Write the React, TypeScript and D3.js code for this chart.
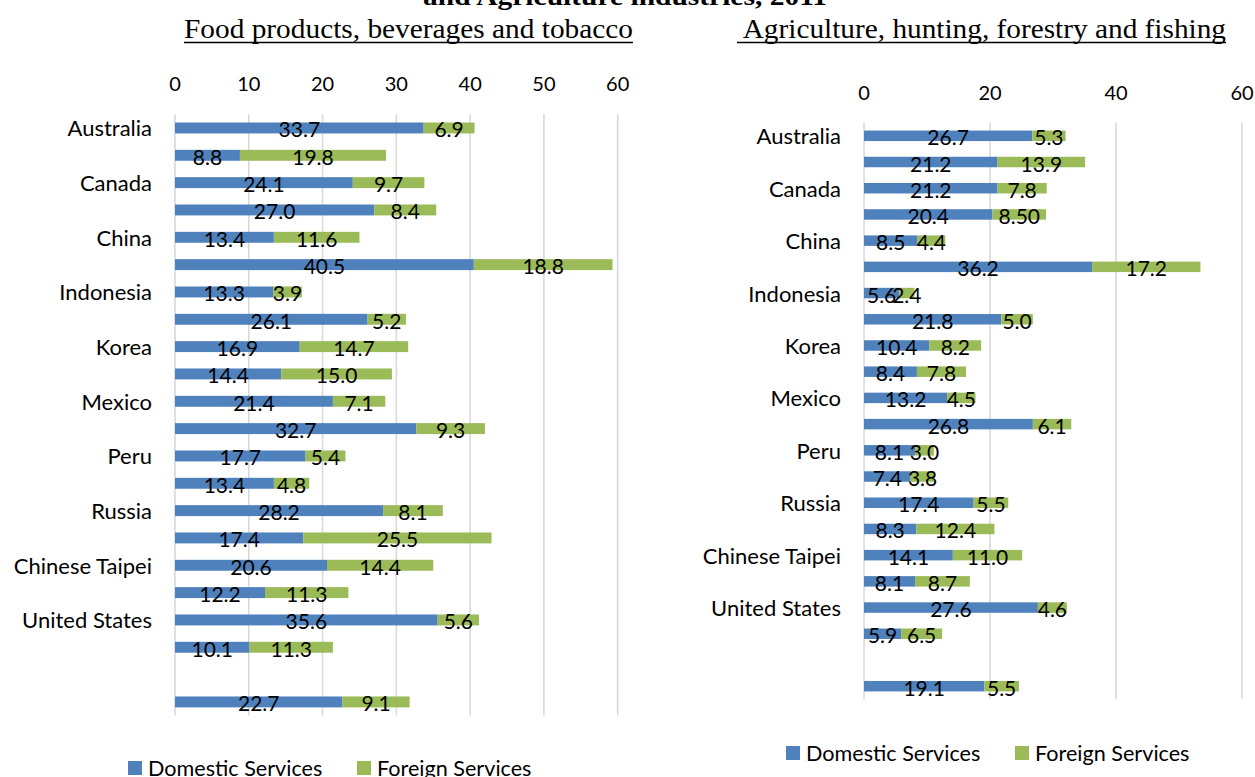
import React from "react";
import * as d3 from "d3";

// Row labels (every other economy is labelled on the axis)
const economyLabels = [
  "Australia", "", "Canada", "", "China", "", "Indonesia", "", "Korea", "",
  "Mexico", "", "Peru", "", "Russia", "", "Chinese Taipei", "", "United States", "",
  "", "",
];

// Food products, beverages and tobacco
const foodDomestic = [
  "33.7", "8.8", "24.1", "27.0", "13.4", "40.5", "13.3", "26.1", "16.9", "14.4",
  "21.4", "32.7", "17.7", "13.4", "28.2", "17.4", "20.6", "12.2", "35.6", "10.1",
  "", "22.7",
];
const foodForeign = [
  "6.9", "19.8", "9.7", "8.4", "11.6", "18.8", "3.9", "5.2", "14.7", "15.0",
  "7.1", "9.3", "5.4", "4.8", "8.1", "25.5", "14.4", "11.3", "5.6", "11.3",
  "", "9.1",
];

// Agriculture, hunting, forestry and fishing
const agriDomestic = [
  "26.7", "21.2", "21.2", "20.4", "8.5", "36.2", "5.6", "21.8", "10.4", "8.4",
  "13.2", "26.8", "8.1", "7.4", "17.4", "8.3", "14.1", "8.1", "27.6", "5.9",
  "", "19.1",
];
const agriForeign = [
  "5.3", "13.9", "7.8", "8.50", "4.4", "17.2", "2.4", "5.0", "8.2", "7.8",
  "4.5", "6.1", "3.0", "3.8", "5.5", "12.4", "11.0", "8.7", "4.6", "6.5",
  "", "5.5",
];

const foodTicks = [0, 10, 20, 30, 40, 50, 60];
const agriTicks = [0, 20, 40, 60];

const BLUE = "#4F81BD";
const GREEN = "#9BBB59";
const GRID = "#D9D9D9";
const SANS = "Lato, 'Open Sans', sans-serif";
const SERIF = "'Liberation Serif', 'Times New Roman', serif";

type PanelProps = {
  left: number;
  right: number;
  top: number;
  bottom: number;
  tickY: number;
  ticks: number[];
  domestic: string[];
  foreign: string[];
};

function Panel({ left, right, top, bottom, tickY, ticks, domestic, foreign }: PanelProps) {
  const x = d3.scaleLinear().domain([0, 60]).range([left, right]);
  const y = d3
    .scaleBand<number>()
    .domain(d3.range(economyLabels.length))
    .range([top, bottom])
    .paddingInner(0.6)
    .paddingOuter(0.3);
  const bw = y.bandwidth();

  return (
    <g>
      {ticks.map((t) => (
        <g key={t}>
          <line x1={x(t)} x2={x(t)} y1={top} y2={bottom} stroke={GRID} strokeWidth={1.6} />
          <text
            x={x(t)}
            y={tickY}
            textAnchor="middle"
            dominantBaseline="central"
            fontFamily={SANS}
            fontSize={20}
            fill="#000"
          >
            {t}
          </text>
        </g>
      ))}
      {economyLabels.map((name, i) =>
        name ? (
          <text
            key={"l" + i}
            x={left - 23}
            y={(y(i) as number) + bw / 2}
            textAnchor="end"
            dominantBaseline="central"
            fontFamily={SANS}
            fontSize={22}
            fill="#000"
          >
            {name}
          </text>
        ) : null
      )}
      {domestic.map((ds, i) => {
        if (ds === "") return null;
        const d = Number(ds);
        const f = Number(foreign[i]);
        const yy = y(i) as number;
        const cy = yy + bw / 2;
        return (
          <g key={"b" + i}>
            <rect x={x(0)} y={yy} width={x(d) - x(0)} height={bw} fill={BLUE} />
            <rect x={x(d)} y={yy} width={x(d + f) - x(d)} height={bw} fill={GREEN} />
            <text
              x={x(d / 2)}
              y={cy + 1}
              textAnchor="middle"
              dominantBaseline="central"
              fontFamily={SANS}
              fontSize={21}
              fill="#000"
            >
              {ds}
            </text>
            <text
              x={x(d + f / 2)}
              y={cy + 1}
              textAnchor="middle"
              dominantBaseline="central"
              fontFamily={SANS}
              fontSize={21}
              fill="#000"
            >
              {foreign[i]}
            </text>
          </g>
        );
      })}
    </g>
  );
}

function Legend({ x, y }: { x: number; y: number }) {
  const items = [
    { label: "Domestic Services", color: BLUE, dx: 0 },
    { label: "Foreign Services", color: GREEN, dx: 229 },
  ];
  return (
    <g>
      {items.map((it) => (
        <g key={it.label}>
          <rect x={x + it.dx} y={y - 7} width={14} height={14} fill={it.color} />
          <text
            x={x + it.dx + 20}
            y={y}
            dominantBaseline="central"
            fontFamily={SANS}
            fontSize={21.6}
            fill="#000"
          >
            {it.label}
          </text>
        </g>
      ))}
    </g>
  );
}

// Underlined panel heading
function Heading({ x, width, text }: { x: number; width: number; text: string }) {
  return (
    <g>
      <text
        x={x}
        y={38}
        fontFamily={SERIF}
        fontSize={27}
        textLength={width}
        lengthAdjust="spacingAndGlyphs"
        fill="#000"
        style={{ whiteSpace: "pre" }}
      >
        {text}
      </text>
      <line x1={x} x2={x + width} y1={42.5} y2={42.5} stroke="#000" strokeWidth={1.6} />
    </g>
  );
}

export default function App() {
  return (
    <svg
      width={1255}
      height={777}
      style={{ position: "absolute", left: 0, top: 0, background: "#fff" }}
    >
      <text
        x={423}
        y={5}
        fontFamily={SERIF}
        fontWeight="bold"
        fontSize={26}
        textLength={404}
        lengthAdjust="spacingAndGlyphs"
        fill="#000"
      >
        and Agriculture industries, 2011
      </text>
      <Heading x={184} width={449} text="Food products, beverages and tobacco" />
      <Heading x={737} width={489} text=" Agriculture, hunting, forestry and fishing" />

      <Panel
        left={175}
        right={617.7}
        top={114.3}
        bottom={715.6}
        tickY={83}
        ticks={foodTicks}
        domestic={foodDomestic}
        foreign={foodForeign}
      />
      <Panel
        left={864}
        right={1242}
        top={122.7}
        bottom={699.3}
        tickY={92}
        ticks={agriTicks}
        domestic={agriDomestic}
        foreign={agriForeign}
      />

      <Legend x={128} y={768} />
      <Legend x={786} y={753} />
    </svg>
  );
}
